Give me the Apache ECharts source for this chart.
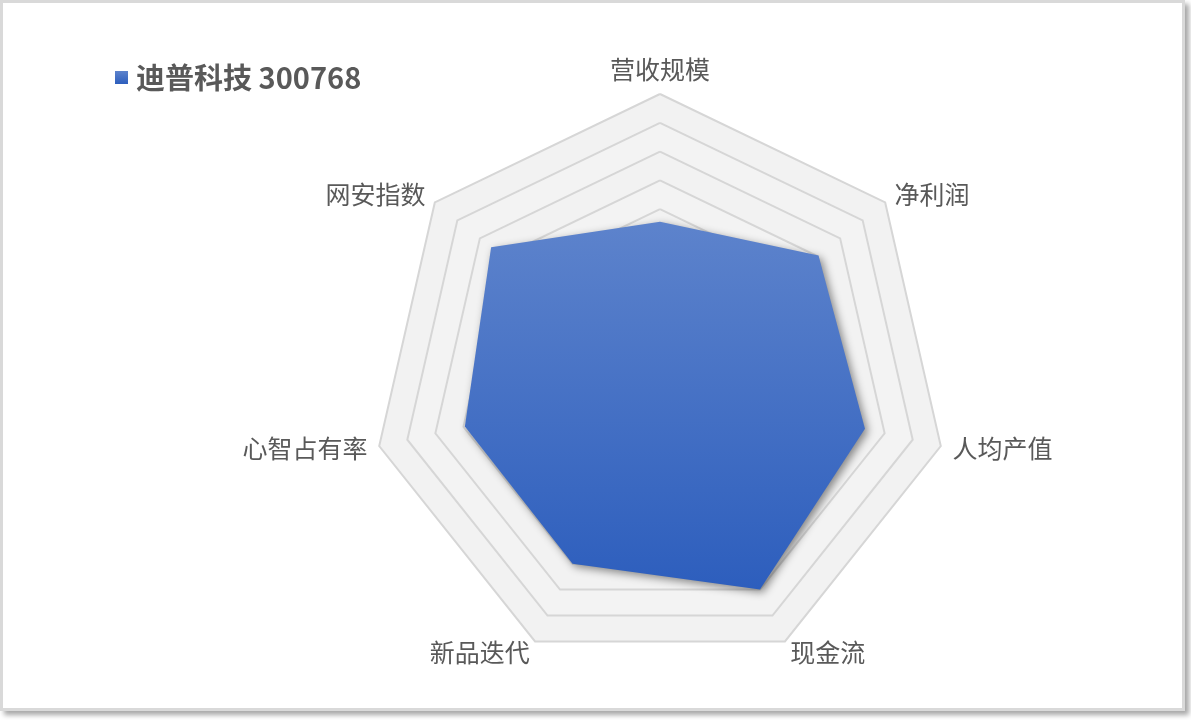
<!DOCTYPE html>
<html>
<head>
<meta charset="utf-8">
<script src="https://cdn.jsdelivr.net/npm/echarts@6/dist/echarts.min.js"></script>
<style>
  html, body { margin: 0; padding: 0; background: #fff; }
  #frame { position: absolute; left: 0; top: 0; width: 1179px; height: 705px;
    border: 3px solid #D9D9D9; background: #fff;
    box-shadow: 4px 4px 5px rgba(0,0,0,0.35); }
  #chart { position: absolute; left: 0; top: 0; width: 1191px; height: 720px; }
</style>
</head>
<body>
<div id="frame"></div>
<div id="chart"></div>
<script>
// Categories in clockwise order starting from the top
const categories = ['营收规模', '净利润', '人均产值', '现金流', '新品迭代', '心智占有率', '网安指数'];
const values = [55.6, 70.4, 73, 80, 70, 69.5, 75];
const maxValue = 100;
const seriesName = '迪普科技 300768';

// ECharts radar runs counter-clockwise; reorder so it appears clockwise
const order = [0].concat(categories.slice(1).map((_, i) => categories.length - 1 - i));
const indicators = order.map(i => ({ name: categories[i], max: maxValue }));
const orderedValues = order.map(i => values[i]);

const fill = new echarts.graphic.LinearGradient(0, 0, 0, 1, [
  { offset: 0, color: '#5D83CC' },
  { offset: 1, color: '#2D5EBD' }
]);

const chart = echarts.init(document.getElementById('chart'), null, { renderer: 'canvas' });
chart.setOption({
  backgroundColor: 'transparent',
  animation: false,
  legend: {
    left: 110,
    top: 58,
    icon: 'rect',
    itemWidth: 13,
    itemHeight: 13,
    itemGap: 10,
    textStyle: {
      fontFamily: 'Noto Sans CJK SC',
      fontSize: 29,
      fontWeight: 'bold',
      color: '#595959',
      padding: [0, 0, 0, 3]
    },
    data: [seriesName]
  },
  radar: {
    center: [660, 382],
    radius: 288,
    startAngle: 90,
    shape: 'polygon',
    splitNumber: 10,
    indicator: indicators,
    axisName: {
      color: '#595959',
      fontFamily: 'Noto Sans CJK SC',
      fontSize: 25
    },
    nameGap: 12,
    axisLine: { show: false },
    splitLine: { lineStyle: { color: '#D6D6D6', width: 2 } },
    splitArea: { show: true, areaStyle: { color: ['#F3F3F3', '#F2F2F2'] } }
  },
  series: [{
    type: 'radar',
    name: seriesName,
    symbol: 'none',
    itemStyle: { color: fill },
    lineStyle: { width: 0, color: '#3F6CC4' },
    areaStyle: {
      color: fill,
      opacity: 1,
      shadowBlur: 8,
      shadowColor: 'rgba(0,0,0,0.45)',
      shadowOffsetX: 3,
      shadowOffsetY: 3
    },
    data: [{ value: orderedValues, name: seriesName }]
  }]
});
</script>
</body>
</html>
